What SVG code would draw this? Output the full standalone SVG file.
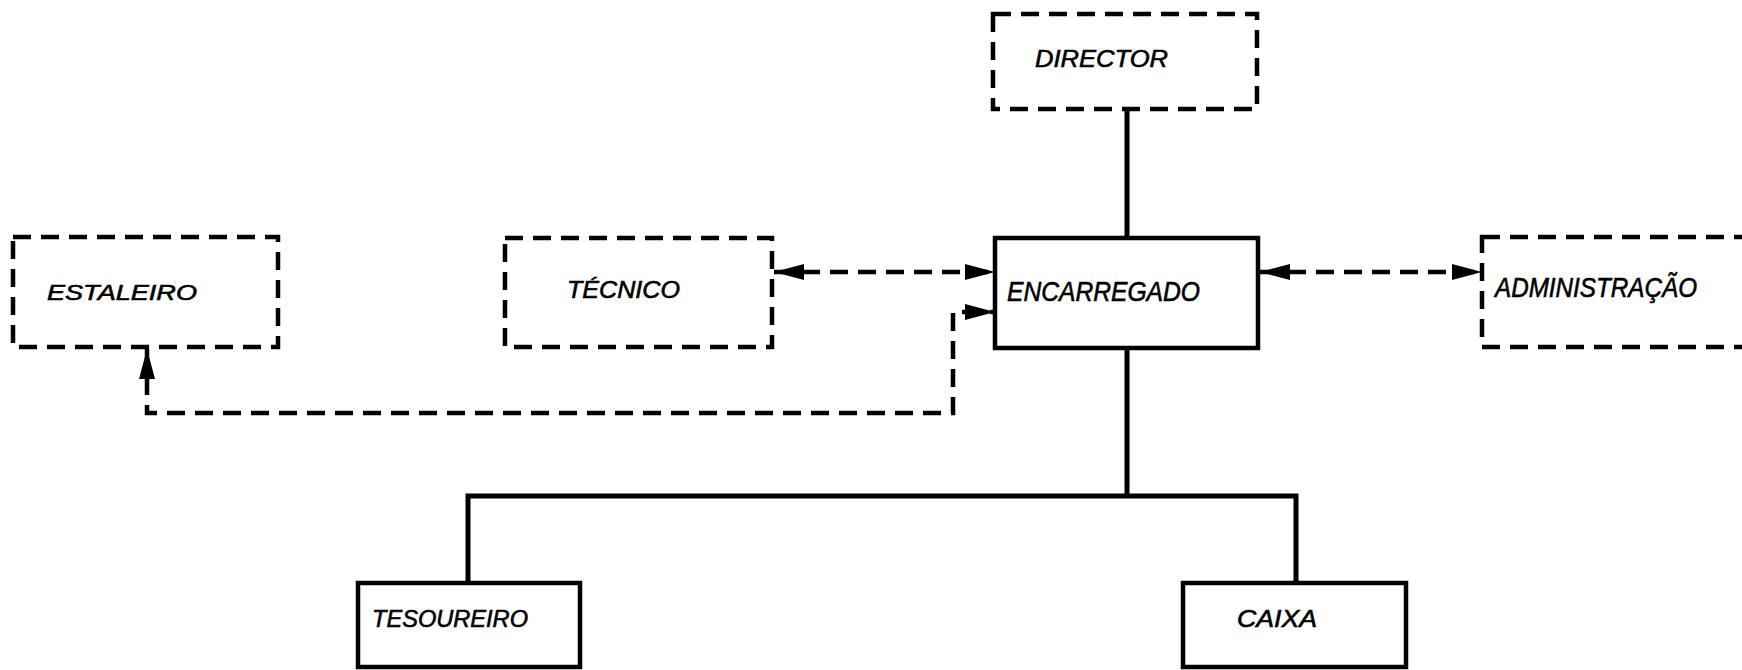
<svg xmlns="http://www.w3.org/2000/svg" width="1742" height="670" viewBox="0 0 1742 670">
<style>
.box{fill:none;stroke:#000;stroke-width:4.5}
.dash{fill:none;stroke:#000;stroke-width:4.5;stroke-dasharray:18 10}
.ln{fill:none;stroke:#000;stroke-width:5}
.dl{fill:none;stroke:#000;stroke-width:4.5;stroke-dasharray:18 10}
.t{font-family:"Liberation Sans",Arial,sans-serif;font-style:italic;fill:#000;stroke:#000;stroke-width:0.6}
</style>
<defs>
<marker id="ah" markerUnits="userSpaceOnUse" markerWidth="32" markerHeight="20" refX="30" refY="10" orient="auto-start-reverse" viewBox="0 0 32 20">
<path d="M0,2 L30,10 L0,18 Z" fill="#000"/>
</marker>
</defs>
<rect width="1742" height="670" fill="#fff"/>
<g id="connectors">
<line class="ln" x1="1127" y1="109" x2="1127" y2="238"/>
<polyline class="ln" points="1127,348 1127,496"/>
<polyline class="ln" points="468,583 468,496 1296,496 1296,583"/>
<line class="dl" x1="774" y1="272" x2="995" y2="272" marker-start="url(#ah)" marker-end="url(#ah)"/>
<line class="dl" x1="1260" y1="272" x2="1482" y2="272" marker-start="url(#ah)" marker-end="url(#ah)"/>
<polyline class="dl" points="147,349 147,413 953,413 953,312 995,312" marker-start="url(#ah)" marker-end="url(#ah)"/>
</g>
<g id="director">
<rect class="dash" x="993" y="14" width="264" height="95"/>
<text class="t" x="1035" y="67" font-size="24" textLength="133" lengthAdjust="spacingAndGlyphs">DIRECTOR</text>
</g>
<g id="estaleiro">
<rect class="dash" x="13" y="237" width="265" height="110"/>
<text class="t" x="47" y="300" font-size="22" textLength="150" lengthAdjust="spacingAndGlyphs">ESTALEIRO</text>
</g>
<g id="tecnico">
<rect class="dash" x="505" y="238" width="267" height="109"/>
<text class="t" x="567" y="298" font-size="24" textLength="113" lengthAdjust="spacingAndGlyphs">TÉCNICO</text>
</g>
<g id="encarregado">
<rect class="box" x="995" y="238" width="263" height="110"/>
<text class="t" x="1007" y="301" font-size="28" textLength="193" lengthAdjust="spacingAndGlyphs">ENCARREGADO</text>
</g>
<g id="administracao">
<rect class="dash" x="1482" y="237" width="290" height="110"/>
<text class="t" x="1495" y="297" font-size="27" textLength="202" lengthAdjust="spacingAndGlyphs">ADMINISTRAÇÃO</text>
</g>
<g id="tesoureiro">
<rect class="box" x="358" y="583" width="222" height="84"/>
<text class="t" x="372" y="627" font-size="24" textLength="156" lengthAdjust="spacingAndGlyphs">TESOUREIRO</text>
</g>
<g id="caixa">
<rect class="box" x="1183" y="583" width="223" height="84"/>
<text class="t" x="1237" y="627" font-size="24" textLength="80" lengthAdjust="spacingAndGlyphs">CAIXA</text>
</g>
</svg>
